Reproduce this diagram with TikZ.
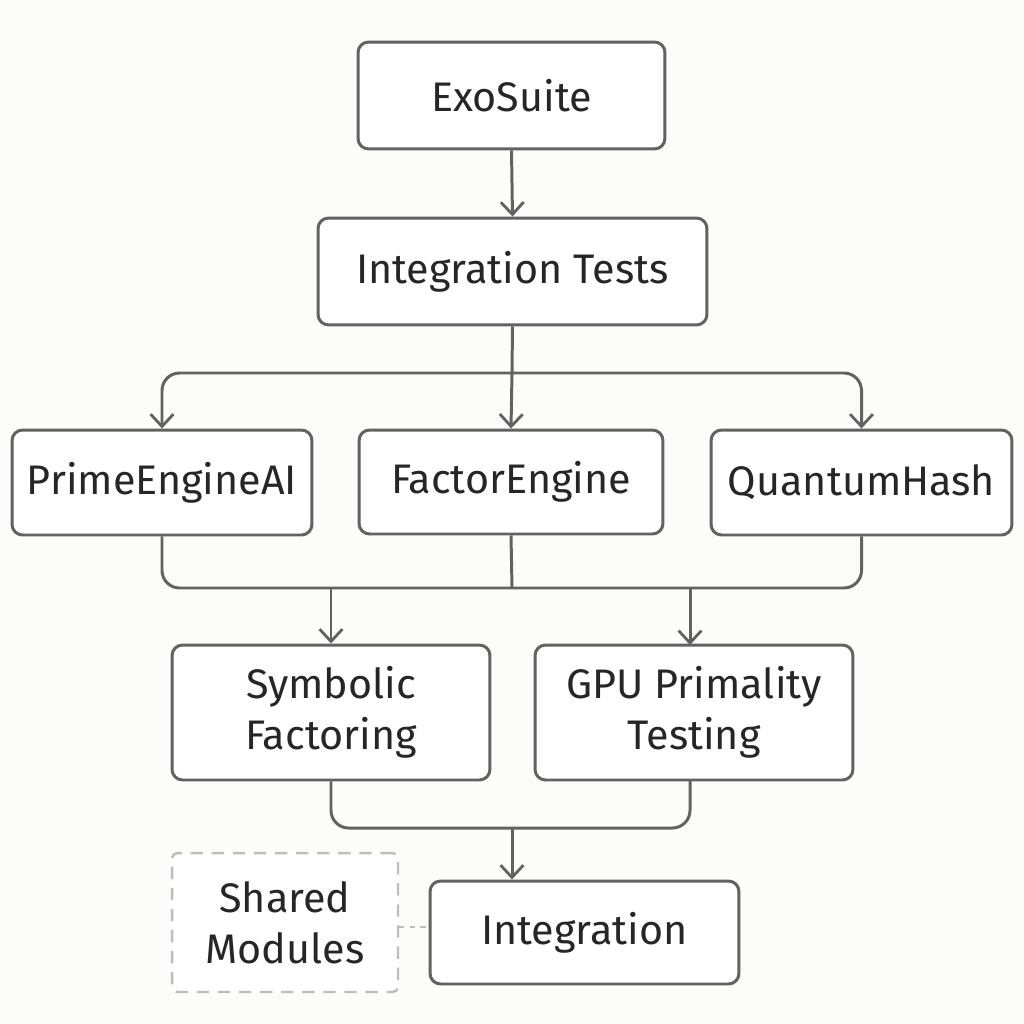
\documentclass[tikz,border=0pt]{standalone}
\usepackage{fontspec}
\setmainfont{Fira Sans}
\usetikzlibrary{arrows.meta}
\definecolor{bg}{HTML}{FCFCFA}
\definecolor{edge}{HTML}{626262}
\definecolor{ink}{HTML}{262626}
\definecolor{faint}{HTML}{BDBDBD}
\tikzset{
  box/.style={draw=edge, line width=1.7pt, rounded corners=6pt, fill=white,
    text=ink, align=center, font=\fontsize{23.5}{29}\selectfont,
    inner sep=0pt},
  ghost/.style={box, draw=faint, line width=1.4pt, dashed, dash pattern=on 7pt off 5pt, rounded corners=3pt},
  link/.style={draw=edge, line width=1.7pt, rounded corners=10pt},
  arr/.style={link, -{Straight Barb[length=7pt,width=13pt,line width=1.6pt]}}
}
\begin{document}
\begin{tikzpicture}[x=0.02cm, y=-0.02cm]
				\fill [bg] (0, 0) rectangle (1024, 1024);
				\useasboundingbox (0, 0) rectangle (1024, 1024);
				% top of the tree
				\node [box, minimum width=6.14cm, minimum height=2.14cm] (exo) at (511.5, 95.5) {ExoSuite};
				\node [box, minimum width=7.78cm, minimum height=2.14cm] (tests) at (512.5, 271.5) {Integration Tests};
				% engines
				\node [box, minimum width=6.0cm, minimum height=2.1cm] (prime) at (162, 482.5) {PrimeEngineAI};
				\node [box, minimum width=6.08cm, minimum height=2.08cm] (factor) at (511, 482) {FactorEngine};
				\node [box, minimum width=6.02cm, minimum height=2.1cm] (quantum) at (861.5, 482.5) {QuantumHash};
				% methods
				\node [box, minimum width=6.36cm, minimum height=2.7cm] (symb) at (331, 712.5) {Symbolic\\Factoring};
				\node [box, minimum width=6.36cm, minimum height=2.7cm] (gpu) at (694, 712.5) {GPU Primality\\Testing};
				% bottom
				\node [box, minimum width=6.18cm, minimum height=2.06cm] (integ) at (584.5, 932.5) {Integration};
				\node [ghost, minimum width=4.52cm, minimum height=2.78cm] (shared) at (285, 922.5) {Shared\\Modules};
				\coordinate (bus) at (512, 373);
				\coordinate (join) at (512, 588);
				\coordinate (merge) at (512, 828);
				\draw [arr] (exo.south) -- (tests.north);
				\draw [link] (tests.south) -- (bus);
				\draw [arr] (bus) -| (prime.north);
				\draw [arr] (bus) -- (factor.north);
				\draw [arr] (bus) -| (quantum.north);
				\draw [link] (prime.south) |- (join);
				\draw [link] (quantum.south) |- (join);
				\draw [link] (factor.south) -- (join);
				\draw [arr] (join -| symb.north) -- (symb.north);
				\draw [arr] (join -| 690, 0) -- (690, 645);
				\draw [link] (symb.south) |- (merge);
				\draw [link] (690, 780) |- (merge);
				\draw [arr] (merge) -- (merge |- integ.north);
				\draw [draw=faint, line width=1.4pt, dashed] (shared.east |- 0, 927) -- (integ.west |- 0, 927);
			\end{tikzpicture}
\end{document}
